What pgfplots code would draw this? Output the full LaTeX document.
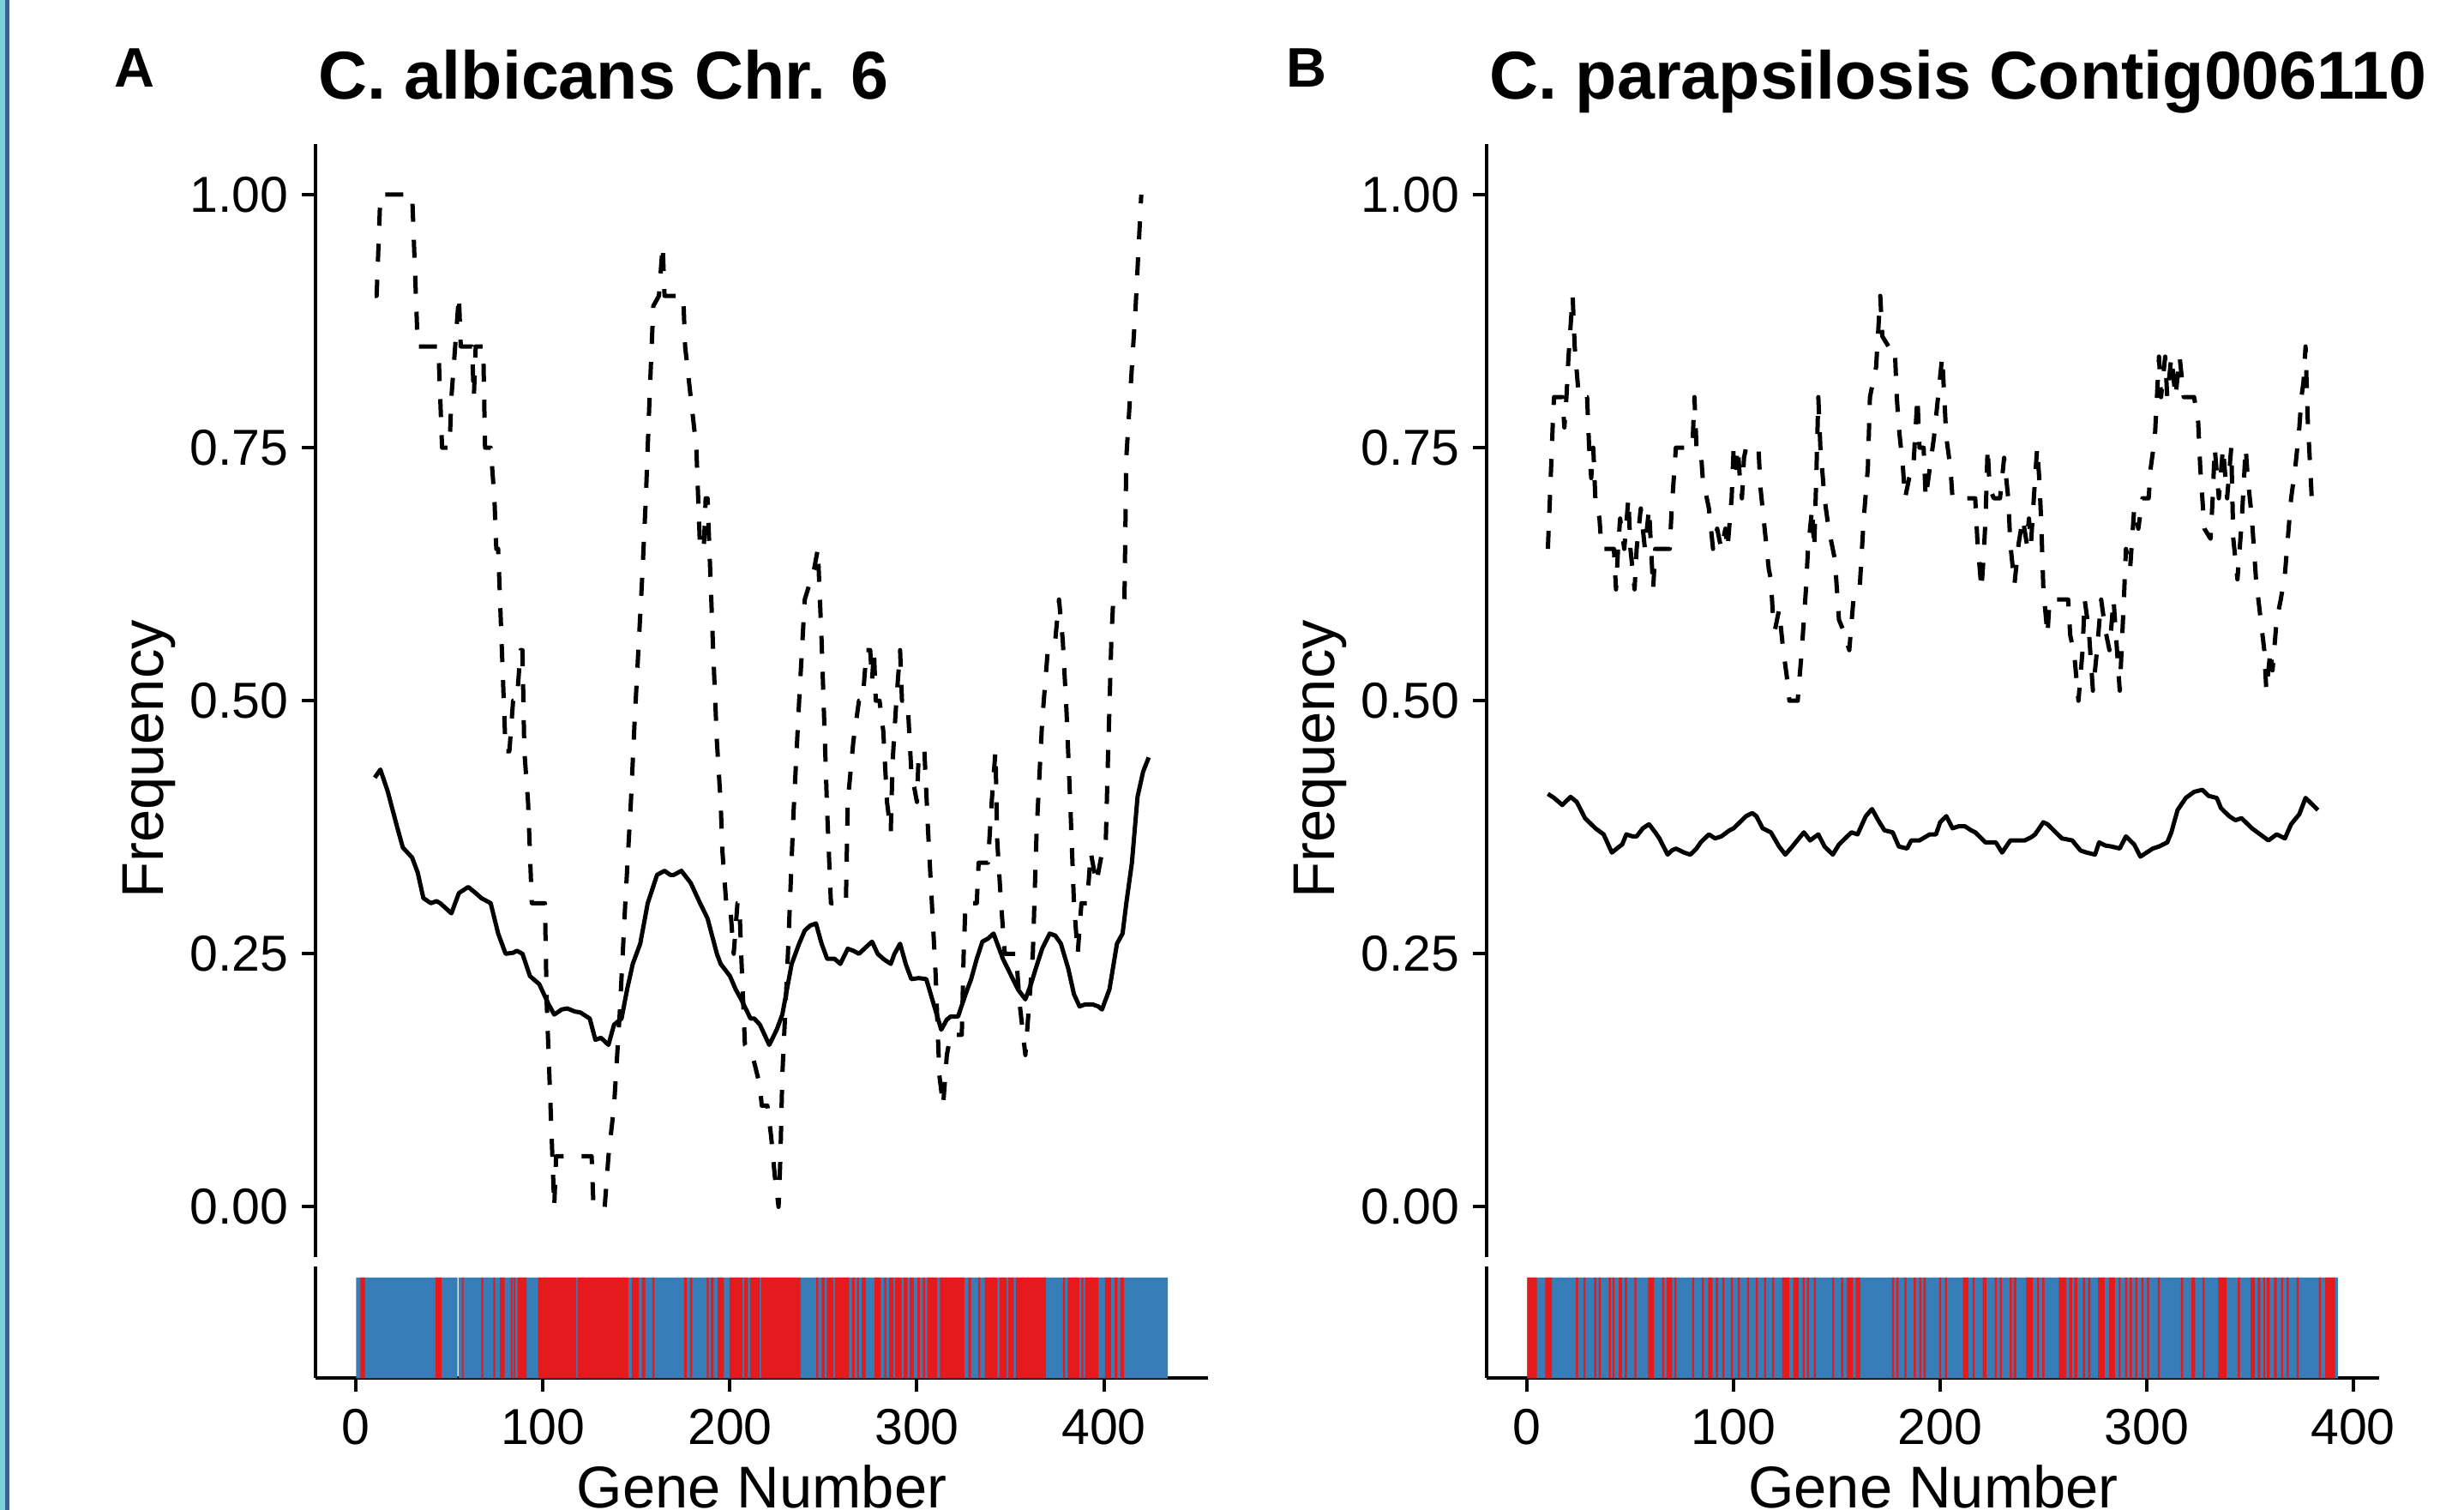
\documentclass[border=0pt]{standalone}
\usepackage{pgfplots}
\pgfplotsset{compat=1.18}
\usepackage{fontspec}
\setmainfont{Liberation Sans}

\definecolor{tileblue}{HTML}{377EB8}
\definecolor{tilered}{HTML}{E41A1C}
\definecolor{edgecyan}{RGB}{122,210,216}
\definecolor{edgeblue}{RGB}{62,95,145}

\pgfplotsset{
  common/.style={scale only axis, anchor=south west, width=208.2pt,
    axis line style={-, line width=0.8pt, black},
    tick style={line width=0.8pt, black}, tick align=outside, major tick length=3.2pt,
    ticklabel style={font=\fontsize{11.8}{14}\selectfont, inner sep=0pt}},
  freq/.style={common, height=259.7pt, ymin=-0.05, ymax=1.05,
    axis x line=none, axis y line*=left, xtick=\empty,
    ytick={0,0.25,0.5,0.75,1}, yticklabels={0.00,0.25,0.50,0.75,1.00},
    yticklabel style={anchor=east}, yticklabel shift=2.95pt},
  genes/.style={common, height=26pt, ymin=0, ymax=1.106, axis lines*=left, ytick=\empty,
    xtick={0,100,200,300,400}, xticklabels={0,100,200,300,400},
    xticklabel style={anchor=north}, xticklabel shift=3.8pt},
  window/.style={black, line width=1pt, line join=round, dash pattern=on 4.2pt off 4.2pt},
  smooth/.style={black, line width=1pt, line join=round},
}

\begin{document}
\begin{tikzpicture}
\useasboundingbox (0,0) rectangle (574.8pt,352.2pt);
\fill[edgecyan] (0,0) rectangle (1.2pt,352.2pt);
\fill[edgeblue] (1.2pt,0) rectangle (2.2pt,352.2pt);

% panel A, frequencies
\begin{axis}[freq, at={(73.6pt,58.9pt)}, xmin=-21.7, xmax=455.7]
\addplot[window] coordinates {
(10,0.90) (11,0.90) (12,0.95) (13,1.00) (26,1.00) (30,1.00) (31,0.95) (32,0.90) (33,0.85) (44,0.85)
(45,0.80) (46,0.75) (50,0.75) (51,0.80) (53,0.85) (55,0.90) (56,0.85) (62,0.85) (63,0.80) (64,0.85)
(68,0.85) (69,0.75) (72,0.75) (74,0.70) (75,0.65) (76,0.65) (77,0.60) (78,0.55) (79,0.50) (80,0.45)
(82,0.45) (84,0.50) (86,0.50) (88,0.55) (89,0.55) (90,0.45) (92,0.40) (93,0.35) (94,0.30) (101,0.30)
(102,0.20) (104,0.10) (105,0.05) (106,0.00) (107,0.05) (126,0.05) (127,0.00) (133,0.00) (135,0.05) (138,0.10)
(141,0.19) (144,0.30) (147,0.40) (149,0.48) (151,0.55) (153,0.62) (155,0.70) (157,0.80) (159,0.89) (162,0.90)
(164,0.95) (165,0.90) (175,0.90) (176,0.85) (179,0.80) (182,0.75) (184,0.65) (186,0.65) (187,0.70) (188,0.70)
(189,0.65) (191,0.55) (193,0.46) (195,0.40) (196,0.35) (198,0.30) (200,0.30) (202,0.25) (204,0.30) (205,0.30)
(206,0.25) (208,0.16) (212,0.15) (216,0.12) (217,0.10) (220,0.10) (222,0.07) (224,0.03) (226,0.00) (227,0.05)
(228,0.13) (231,0.25) (234,0.39) (237,0.50) (240,0.60) (245,0.63) (247,0.65) (249,0.56) (252,0.39) (254,0.30)
(262,0.30) (263,0.40) (266,0.46) (269,0.50) (271,0.50) (273,0.55) (275,0.55) (276,0.52) (277,0.55) (278,0.50)
(280,0.50) (282,0.47) (284,0.40) (286,0.37) (287,0.44) (289,0.50) (291,0.55) (292,0.50) (295,0.50) (297,0.43)
(300,0.40) (301,0.45) (304,0.45) (306,0.37) (308,0.30) (310,0.23) (312,0.13) (314,0.10) (316,0.15) (318,0.17)
(324,0.17) (325,0.25) (326,0.30) (332,0.30) (333,0.34) (338,0.34) (340,0.40) (342,0.45) (343,0.36) (345,0.30)
(347,0.25) (353,0.25) (355,0.20) (358,0.15) (360,0.20) (362,0.25) (364,0.37) (367,0.48) (370,0.55) (374,0.56)
(376,0.60) (378,0.56) (380,0.49) (382,0.40) (384,0.30) (386,0.25) (388,0.30) (391,0.30) (393,0.35) (396,0.32)
(399,0.35) (401,0.36) (402,0.43) (404,0.56) (405,0.60) (411,0.60) (412,0.74) (414,0.80) (417,0.89) (420,1.00)
};
\addplot[smooth] coordinates {
(10,0.424) (13,0.432) (17,0.41) (22,0.375) (25,0.355) (30,0.345) (33,0.33) (36,0.305) (40,0.30) (43,0.302)
(45,0.30) (48,0.295) (51,0.29) (53,0.30) (55,0.31) (60,0.316) (64,0.31) (67,0.305) (72,0.30) (76,0.27)
(80,0.25) (84,0.251) (86,0.253) (89,0.25) (93,0.228) (98,0.22) (103,0.20) (106,0.19) (110,0.195) (113,0.196)
(117,0.193) (120,0.192) (125,0.186) (128,0.165) (131,0.167) (135,0.16) (138,0.18) (142,0.186) (145,0.215) (148,0.24)
(152,0.26) (156,0.30) (161,0.328) (165,0.332) (168,0.328) (170,0.328) (174,0.332) (179,0.32) (184,0.30) (188,0.285)
(193,0.25) (195,0.24) (200,0.228) (203,0.215) (206,0.205) (211,0.186) (213,0.186) (216,0.18) (219,0.168) (221,0.16)
(225,0.175) (228,0.19) (233,0.24) (237,0.26) (240,0.273) (243,0.278) (246,0.28) (249,0.26) (252,0.245) (256,0.245)
(259,0.24) (263,0.255) (266,0.253) (269,0.25) (273,0.257) (276,0.262) (279,0.25) (282,0.245) (286,0.24) (288,0.25)
(291,0.26) (294,0.24) (297,0.225) (301,0.226) (305,0.225) (309,0.20) (313,0.175) (316,0.185) (318,0.188) (322,0.188)
(326,0.21) (329,0.225) (332,0.245) (335,0.262) (338,0.265) (341,0.27) (344,0.255) (346,0.245) (350,0.23) (354,0.215)
(358,0.205) (361,0.22) (364,0.238) (367,0.255) (371,0.27) (374,0.268) (377,0.26) (381,0.235) (384,0.21) (387,0.198)
(390,0.20) (394,0.20) (397,0.198) (399,0.195) (403,0.215) (407,0.26) (410,0.27) (412,0.30) (415,0.34) (418,0.405)
(421,0.43) (424,0.444)
};
\end{axis}

% panel A, genes
\begin{axis}[genes, at={(73.6pt,30.7pt)}, xmin=-21.7, xmax=455.7]
\addplot[const plot, fill=tileblue, draw=none] coordinates {(0,1) (54.3,0) (54.8,1) (434.2,1)} \closedcycle;
\addplot[const plot, fill=tilered, draw=none] coordinates {
(0,0) (2.3,1) (4.7,0) (42.4,1) (45.6,0) (56.5,1) (57.5,0) (67,1) (68,0) (73.4,1) (74.4,0) (76.9,1) (79.5,0)
(82.7,1) (83.7,0) (84.2,1) (85.2,0) (86.3,1) (91.2,0) (97.4,1) (117.8,0) (118.4,1) (145.6,0) (147.5,1) (151.2,0)
(152.9,1) (154.7,0) (158.5,1) (159.6,0) (175.4,1) (176.9,0) (178.7,1) (179.8,0) (187.6,1) (188.6,0) (189.8,1)
(191.2,0) (193.3,1) (196.8,0) (199.7,1) (206.7,0) (207.6,1) (209.6,0) (210.8,1) (215.8,0) (216.6,1) (237.7,0)
(246.2,1) (247.2,0) (249,1) (250.6,0) (251.8,1) (255.3,0) (256.1,1) (263.7,0) (265.2,1) (266.7,0) (268,1) (269,0)
(270.5,1) (272.5,0) (277.2,1) (280.7,0) (282.5,1) (283.6,0) (285.1,1) (287.4,0) (288.3,1) (291.8,0) (293,1) (295,0)
(296.2,1) (298.2,0) (300.3,1) (301.5,0) (303.2,1) (304.4,0) (305.6,1) (310.8,0) (312.3,1) (325.4,0) (327.5,1) (329,0)
(332.7,1) (333.9,0) (336.3,1) (343,0) (344.2,1) (348,0) (348.8,1) (351.8,0) (352.9,1) (369,0) (378.1,1) (379.2,0)
(380.7,1) (386.8,0) (388,1) (389,0) (390,1) (397,0) (400.6,1) (403.8,0) (405.8,1) (407.3,0) (408.8,1) (410.8,0)
(434.2,0)
} \closedcycle;
\end{axis}

% panel B, frequencies
\begin{axis}[freq, at={(346.8pt,58.9pt)}, xmin=-19.65, xmax=412.65]
\addplot[window] coordinates {
(10,0.65) (11,0.70) (12.5,0.78) (13,0.80) (17,0.80) (18,0.77) (19,0.80) (20,0.84) (22,0.90) (23,0.85)
(25,0.80) (29,0.80) (30,0.75) (31,0.72) (32,0.75) (33,0.70) (35,0.68) (36,0.65) (42,0.65) (43,0.61)
(44,0.65) (45,0.68) (47,0.65) (49,0.70) (50,0.65) (52,0.61) (53,0.65) (55,0.69) (57,0.65) (59,0.69)
(60,0.65) (61,0.61) (62,0.65) (69,0.65) (70,0.69) (71,0.72) (72,0.75) (80,0.75) (81,0.80) (82,0.75)
(84,0.75) (85,0.72) (88,0.69) (90,0.65) (92,0.67) (94,0.65) (96,0.67) (97,0.65) (99,0.70) (100,0.75)
(101,0.73) (102,0.75) (103,0.72) (104,0.70) (105,0.74) (106,0.75) (112,0.75) (113,0.71) (115,0.67) (117,0.63)
(118,0.62) (119,0.585) (120,0.57) (122,0.59) (124,0.55) (126,0.52) (127,0.50) (131,0.50) (133,0.55) (135,0.61)
(136,0.65) (137,0.67) (138,0.69) (139,0.65) (140,0.72) (141,0.80) (142,0.75) (144,0.70) (146,0.67) (149,0.64)
(151,0.58) (153,0.57) (156,0.55) (158,0.60) (161,0.61) (163,0.68) (165,0.73) (166,0.80) (169,0.83) (171,0.90)
(172,0.86) (175,0.85) (178,0.85) (179,0.80) (180,0.77) (182,0.73) (183,0.70) (185,0.72) (187,0.73) (189,0.80)
(190,0.75) (192,0.75) (193,0.70) (195,0.73) (197,0.76) (199,0.80) (201,0.84) (202,0.80) (203,0.76) (205,0.73)
(206,0.70) (217,0.70) (218,0.66) (220,0.61) (221,0.64) (222,0.68) (223,0.75) (224,0.71) (226,0.70) (229,0.70)
(231,0.74) (233,0.70) (234,0.655) (236,0.615) (238,0.655) (240,0.68) (242,0.655) (243,0.68) (244,0.655) (246,0.72)
(247,0.75) (248,0.72) (249,0.675) (250,0.61) (252,0.565) (253,0.60) (255,0.60) (262,0.60) (263,0.565) (265,0.545)
(267,0.50) (269,0.55) (270,0.60) (272,0.57) (274,0.51) (276,0.55) (278,0.60) (280,0.57) (282,0.55) (284,0.60)
(286,0.54) (287,0.51) (289,0.60) (290,0.65) (292,0.63) (294,0.69) (296,0.67) (298,0.70) (301,0.70) (302,0.73)
(304,0.76) (305,0.80) (306,0.84) (307,0.80) (309,0.84) (310,0.80) (312,0.84) (314,0.80) (316,0.84) (318,0.80)
(323,0.80) (325,0.775) (326,0.73) (327,0.70) (328,0.67) (331,0.66) (332,0.70) (333,0.75) (335,0.70) (337,0.75)
(339,0.70) (341,0.75) (342,0.66) (344,0.62) (346,0.675) (348,0.75) (349,0.72) (351,0.68) (353,0.62) (355,0.585)
(357,0.55) (358,0.51) (360,0.55) (361,0.53) (363,0.58) (365,0.60) (367,0.625) (369,0.675) (370,0.70) (372,0.73)
(374,0.77) (375,0.80) (376,0.815) (377,0.85) (378,0.78) (379,0.74) (380,0.70)
};
\addplot[smooth] coordinates {
(10,0.408) (13,0.404) (17,0.397) (21,0.405) (24,0.40) (28,0.384) (33,0.374) (37,0.368) (41,0.35) (44,0.355)
(46,0.358) (48,0.368) (51,0.366) (53,0.366) (56,0.374) (59,0.378) (62,0.37) (64,0.364) (68,0.348) (70,0.352)
(72,0.354) (76,0.35) (79,0.348) (82,0.354) (84,0.36) (88,0.368) (91,0.364) (94,0.366) (98,0.372) (100,0.374)
(103,0.38) (106,0.386) (109,0.389) (111,0.386) (114,0.374) (118,0.37) (122,0.356) (125,0.348) (128,0.355) (130,0.36)
(134,0.37) (137,0.362) (141,0.368) (144,0.356) (148,0.348) (151,0.358) (154,0.364) (157,0.37) (160,0.368) (164,0.386)
(167,0.393) (170,0.382) (173,0.372) (177,0.37) (180,0.356) (184,0.354) (186,0.362) (190,0.362) (195,0.368) (198,0.368)
(200,0.38) (203,0.386) (206,0.374) (209,0.376) (212,0.376) (215,0.372) (217,0.37) (222,0.36) (227,0.36) (230,0.35)
(234,0.362) (238,0.362) (241,0.362) (244,0.365) (246,0.368) (250,0.38) (252,0.378) (255,0.372) (259,0.364) (264,0.362)
(268,0.352) (271,0.35) (275,0.348) (277,0.36) (280,0.357) (283,0.356) (287,0.354) (290,0.366) (294,0.358) (297,0.346)
(300,0.35) (303,0.354) (306,0.356) (310,0.36) (312,0.37) (315,0.392) (319,0.404) (323,0.41) (327,0.412) (330,0.406)
(334,0.404) (336,0.394) (340,0.386) (343,0.382) (346,0.384) (351,0.374) (355,0.368) (359,0.362) (363,0.368) (367,0.364)
(370,0.378) (374,0.388) (377,0.404) (379,0.40) (383,0.392)
};
\end{axis}

% panel B, genes
\begin{axis}[genes, at={(346.8pt,30.7pt)}, xmin=-19.65, xmax=412.65]
\addplot[const plot, fill=tileblue, draw=none] coordinates {(0,1) (392.6,1)} \closedcycle;
\addplot[const plot, fill=tilered, draw=none] coordinates {
(0,1) (4.7,0) (8.7,1) (11.9,0) (23.6,1) (24.6,0) (27.3,1) (28.3,0) (32.4,1) (33.4,0) (34.6,1) (35.6,0)
(39.5,1) (40.5,0) (41.3,1) (42.3,0) (44.3,1) (45.9,0) (47.2,1) (48.3,0) (51.9,1) (52.9,0) (58.6,1) (61.5,0)
(65.3,1) (66.3,0) (67.5,1) (70.2,0) (71.3,1) (72.3,0) (79.8,1) (80.8,0) (84.6,1) (85.6,0) (87.6,1) (89.7,0)
(91.4,1) (92.4,0) (94.5,1) (95.5,0) (98.6,1) (99.6,0) (102,1) (103,0) (106.5,1) (107.5,0) (110.7,1) (111.7,0)
(114.7,1) (115.7,0) (118.6,1) (119.6,0) (123.5,1) (126.9,0) (128.8,1) (131.4,0) (133.4,1) (134.4,0) (135.5,1)
(136.5,0) (138.8,1) (139.8,0) (147.7,1) (148.7,0) (152,1) (153,0) (154.9,1) (157.8,0) (159.1,1) (161.2,0)
(176.7,1) (177.7,0) (178.8,1) (179.8,0) (182.7,1) (183.7,0) (187.2,1) (188.2,0) (189.9,1) (190.9,0) (192,1)
(193,0) (199.5,1) (200.5,0) (202.3,1) (203.3,0) (211.1,1) (213.7,0) (215.7,1) (216.7,0) (220.6,1) (222.4,0)
(226.4,1) (227.4,0) (228.9,1) (229.9,0) (233.7,1) (234.7,0) (235.6,1) (236.9,0) (241.7,1) (244.9,0) (246.9,1)
(247.9,0) (249.5,1) (250.5,0) (257.5,1) (261.2,0) (262.5,1) (263.9,0) (264.9,1) (266.5,0) (269.1,1) (270.2,0)
(271.7,1) (272.7,0) (276.5,1) (279.7,0) (281.8,1) (284.7,0) (286.4,1) (287.4,0) (289.6,1) (290.6,0) (291.8,1)
(292.9,0) (294.5,1) (295.5,0) (297.5,1) (298.5,0) (300.2,1) (301.2,0) (305.4,1) (306.4,0) (316.6,1) (317.7,0)
(321.6,1) (323.5,0) (327.1,1) (328.1,0) (334.6,1) (338.8,0) (344.2,1) (345.2,0) (350.4,1) (352.5,0) (353.8,1)
(355.1,0) (356.5,1) (357.5,0) (358.3,1) (359.6,0) (361.7,1) (363.1,0) (365.1,1) (366.1,0) (367.8,1) (368.9,0)
(372.7,1) (373.7,0) (383.4,1) (384.4,0) (386.5,1) (391.3,0) (392.6,0)
} \closedcycle;
\end{axis}

% titles and labels
\node[anchor=base west, inner sep=0pt, font=\fontsize{13}{15}\selectfont\bfseries] at (26.4pt,331.9pt) {A};
\node[anchor=base west, inner sep=0pt, font=\fontsize{15.8}{19}\selectfont\bfseries] at (74pt,329.1pt) {C. albicans Chr. 6};
\node[anchor=base west, inner sep=0pt, font=\fontsize{13}{15}\selectfont\bfseries] at (299.8pt,331.9pt) {B};
\node[anchor=base west, inner sep=0pt, font=\fontsize{15.8}{19}\selectfont\bfseries] at (347.2pt,329.1pt) {C. parapsilosis Contig006110};
\node[rotate=90, anchor=base, inner sep=0pt, font=\fontsize{13.75}{16}\selectfont] at (38pt,175.1pt) {Frequency};
\node[rotate=90, anchor=base, inner sep=0pt, font=\fontsize{13.75}{16}\selectfont] at (311.2pt,175.1pt) {Frequency};
\node[anchor=base, inner sep=0pt, font=\fontsize{13.75}{16}\selectfont] at (177.7pt,0.4pt) {Gene Number};
\node[anchor=base, inner sep=0pt, font=\fontsize{13.75}{16}\selectfont] at (451pt,0.4pt) {Gene Number};
\end{tikzpicture}
\end{document}
